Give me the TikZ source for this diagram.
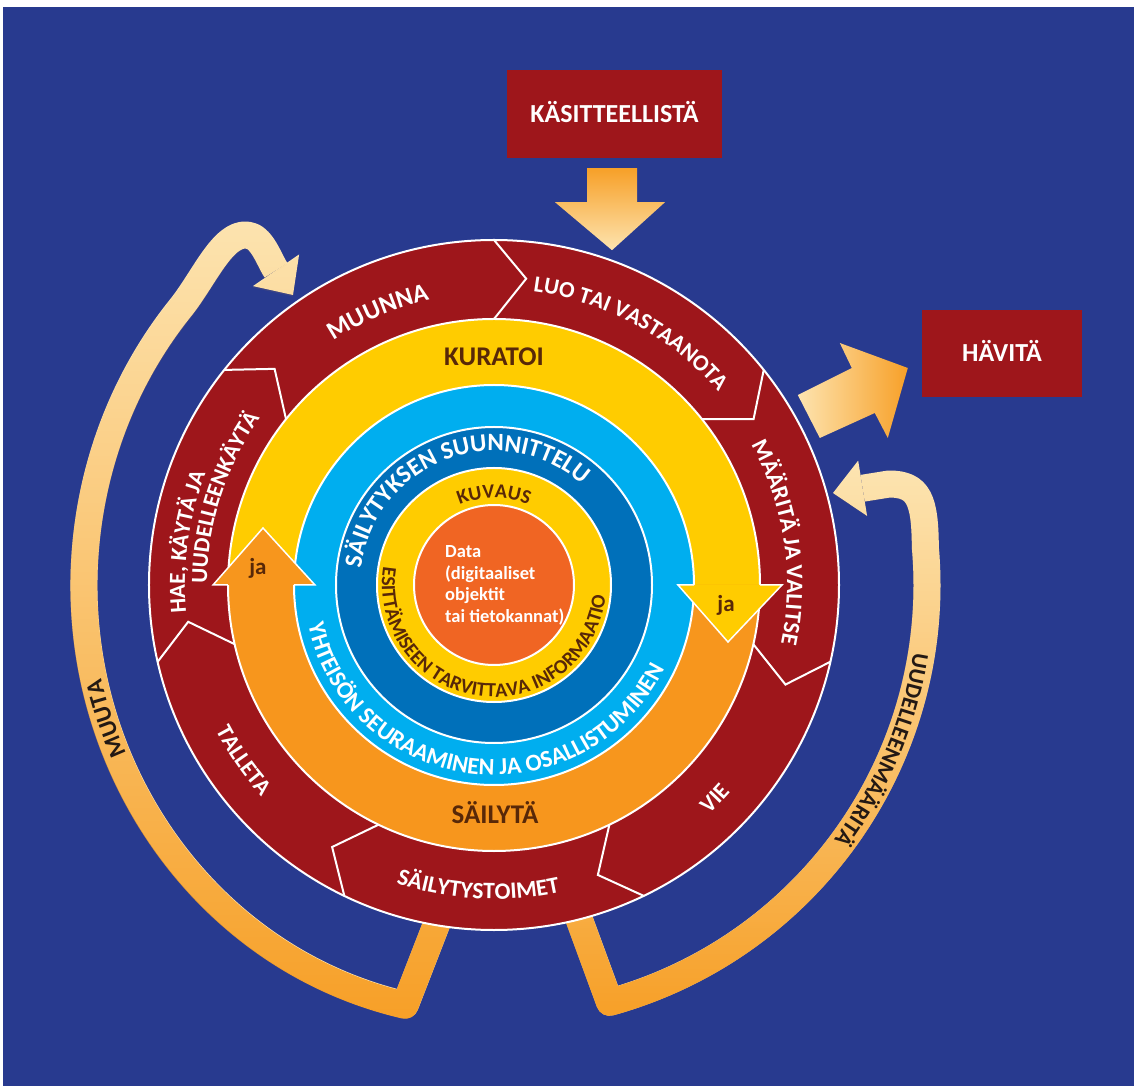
\documentclass[tikz,border=0pt]{standalone}
\usepackage{fontspec}
\setmainfont{Carlito}
\usetikzlibrary{decorations.text,arrows.meta,fadings,calc}

\definecolor{bgblue}{RGB}{40,58,143}
\definecolor{ringred}{RGB}{158,22,27}
\definecolor{curyellow}{RGB}{255,204,0}
\definecolor{presorange}{RGB}{247,150,29}
\definecolor{lightblue}{RGB}{0,174,239}
\definecolor{darkblue}{RGB}{0,112,186}
\definecolor{dataorange}{RGB}{240,101,35}
\definecolor{txtbrown}{RGB}{88,40,8}
\definecolor{banddark}{RGB}{35,25,20}
\definecolor{bandlight}{RGB}{253,228,176}
\definecolor{bandorange}{RGB}{247,160,40}

\tikzfading[name=band fade, top color=transparent!100, bottom color=transparent!0]

\newcommand\redtxt{\fontsize{23}{23}\selectfont\bfseries\color{white}}
\newcommand\bluetxt{\fontsize{25}{25}\selectfont\bfseries\color{white}}
\newcommand\browntxt{\fontsize{20}{20}\selectfont\bfseries\color{txtbrown}}
\newcommand\bandtxt{\fontsize{24}{24}\selectfont\bfseries\color{banddark}}

\tikzset{
  boxnode/.style={fill=ringred, text=white, font=\fontsize{26}{26}\selectfont\bfseries,
    text height=16.7pt, text depth=0pt},
  band/.style={line width=27pt, line join=round,
    -{Triangle[width=56pt,length=30pt,line width=0pt]}},
  sep/.style={draw=white, line width=2pt},
  ringtext/.style={decorate, decoration={text along path, text align=center, text={#1}}},
  bigbrown/.style={font=\fontsize{27}{27}\selectfont\bfseries, text=txtbrown, anchor=base},
}

\begin{document}
\begin{tikzpicture}[x=1pt, y=1pt]
	% Canvas
	\useasboundingbox (-494,-501) rectangle (640,585);
	\fill[white] (-494,-501) rectangle (640,585);
	\fill[bgblue] (-491,-501) rectangle (640,578);
	
	% Ends of the feedback bands
	\coordinate (muuta-start) at (-50,-320);
	\coordinate (muuta-corner) at (-88.7,-419.8);
	\coordinate (muuta-tip) at (-201,290);
	\coordinate (uud-start) at (80,-320);
	\coordinate (uud-corner) at (115.7,-417.2);
	\coordinate (uud-tip) at (339,92);
	
	\def\muutapath{(muuta-start) -- (muuta-corner)
		arc[start angle=257.5, end angle=140, x radius=410pt, y radius=430pt]
		.. controls (-290,306) and (-272,352) .. (-247,350)
		.. controls (-232,349) and (-225,325) .. (muuta-tip)}
	\def\uudpath{(uud-start) -- (uud-corner)
		arc[start angle=285.5, end angle=365, radius=433pt]
		.. controls (431,85) and (425,101) .. (395,101) -- (uud-tip)}
	
	% Feedback bands
	\draw[band, draw=bandlight] \muutapath;
	\draw[band, draw=bandorange, path fading=band fade] \muutapath;
	\draw[band, draw=bandlight] \uudpath;
	\draw[band, draw=bandorange, path fading=band fade] \uudpath;
	
	% Boxes outside
	\node[boxnode, minimum width=215pt, minimum height=88pt] (kasit) at (120.5,471) {KÄSITTEELLISTÄ};
	\node[boxnode, minimum width=160pt, minimum height=87pt] (havita) at (508,231.5) {HÄVITÄ};
	
	% Block arrows
	\begin{scope}[shift={(kasit.south)}]
		\shade[top color=bandorange, bottom color=bandlight]
		(-27.5,-10) -- (22.5,-10) -- (22.5,-44) -- (50.5,-44) -- (-2.5,-92)
		-- (-59.5,-44) -- (-27.5,-44) -- cycle;
	\end{scope}
	\begin{scope}[shift={(havita.west)}]
		\shade[left color=bandlight, right color=bandorange]
		(-124,-41.5) -- (-70,-14.5) -- (-82,10.5) -- (-14,-14.5) -- (-34,-84.5)
		-- (-47,-59.5) -- (-102,-84.5) -- cycle;
	\end{scope}
	
	% Outer ring
	\fill[ringred] (0,0) circle[radius=345pt];
	\draw[sep] (0,0) circle[radius=345pt];
	\foreach \t in {90,38.57,-12.86,-64.29,-115.71,-167.14,-218.57}
	\draw[sep] (\t:345pt) -- ({\t-6}:308pt) -- (\t:266pt);
	
	% Curate and preserve ring
	\fill[curyellow] (0:266pt) arc[start angle=0, end angle=180, radius=266pt] -- cycle;
	\fill[presorange] (180:266pt) arc[start angle=180, end angle=360, radius=266pt] -- cycle;
	\draw[sep] (0,0) circle[radius=266pt];
	
	% Inner rings
	\filldraw[fill=lightblue, sep] (0,0) circle[radius=200pt];
	\filldraw[fill=darkblue, sep] (0,0) circle[radius=158pt];
	\filldraw[fill=curyellow, sep] (0,0) circle[radius=117pt];
	\filldraw[fill=dataorange, sep] (0,0) circle[radius=80pt];
	
	% Arrow heads of the ring
	\fill[curyellow] (184,0) -- (234,-57) -- (288,0) -- cycle;
	\draw[white, line width=1.5pt] (200,0) -- (184,0) -- (234,-57) -- (288,0) -- (266,0);
	\fill[presorange] (-281,0) -- (-231,57) -- (-179,0) -- cycle;
	\draw[white, line width=1.5pt] (-266,0) -- (-281,0) -- (-231,57) -- (-179,0) -- (-200,0);
	\node[font=\fontsize{23}{23}\selectfont\bfseries, text=txtbrown] (ja-right) at (232,-20) {ja};
	\node[font=\fontsize{23}{23}\selectfont\bfseries, text=txtbrown] (ja-left) at (-236,17) {ja};
	
	% Outer ring labels
	\path[ringtext={|\redtxt\fontsize{25.5}{25.5}\selectfont|MUUNNA}] (173:292pt) arc[start angle=173, end angle=53, radius=292pt];
	\path[ringtext={|\redtxt|LUO TAI VASTAANOTA}] (121.5:296pt) arc[start angle=121.5, end angle=1.5, radius=296pt];
	\path[ringtext={|\redtxt\fontsize{23.5}{23.5}\selectfont|MÄÄRITÄ JA VALITSE}] (68.5:293pt) arc[start angle=68.5, end angle=-51.5, radius=293pt];
	\path[ringtext={|\redtxt|VIE}] (-104:314pt) arc[start angle=-104, end angle=16, radius=314pt];
	\path[ringtext={|\redtxt\fontsize{23.5}{23.5}\selectfont|SÄILYTYSTOIMET}] (-153:314pt) arc[start angle=-153, end angle=-33, radius=314pt];
	\path[ringtext={|\redtxt|TALLETA}] (155:314pt) arc[start angle=155, end angle=275, radius=314pt];
	\path[ringtext={|\redtxt|HAE, KÄYTÄ JA}] (232:309pt) arc[start angle=232, end angle=112, radius=309pt];
	\path[ringtext={|\redtxt|UUDELLEENKÄYTÄ}] (222:287pt) arc[start angle=222, end angle=102, radius=287pt];
	
	% Inner labels
	\node[bigbrown] (kuratoi) at (0,219.3) {KURATOI};
	\node[bigbrown] (sailyta) at (1,-238.7) {SÄILYTÄ};
	\path[ringtext={|\bluetxt|SÄILYTYKSEN SUUNNITTELU}] (190.7:134pt) arc[start angle=190.7, end angle=30.7, radius=134pt];
	\path[ringtext={|\bluetxt\fontsize{24}{24}\selectfont|YHTEISÖN SEURAAMINEN JA OSALLISTUMINEN}] (173:190pt) arc[start angle=173, end angle=353, radius=190pt];
	\path[ringtext={|\browntxt|KUVAUS}] (150:87pt) arc[start angle=150, end angle=30, radius=87pt];
	\path[ringtext={|\browntxt|ESITTÄMISEEN TARVITTAVA INFORMAATIO}] (152.5:112pt) arc[start angle=152.5, end angle=372.5, radius=112pt];
	\node[anchor=west, align=left, inner sep=0pt, text=white,
	font=\fontsize{18.5}{21.7}\selectfont\bfseries] (data) at (-49,-0.5)
	{Data\\(digitaaliset\\objektit\\tai tietokannat)};
	
	% Band labels
	\path[ringtext={|\bandtxt|MUUTA}] (239:404pt) arc[start angle=239, end angle=159, radius=404pt];
	\path[ringtext={|\bandtxt\fontsize{23}{23}\selectfont|UUDELLEENMÄÄRITÄ}] (17:425pt) arc[start angle=17, end angle=-63, radius=425pt];
\end{tikzpicture}
\end{document}
